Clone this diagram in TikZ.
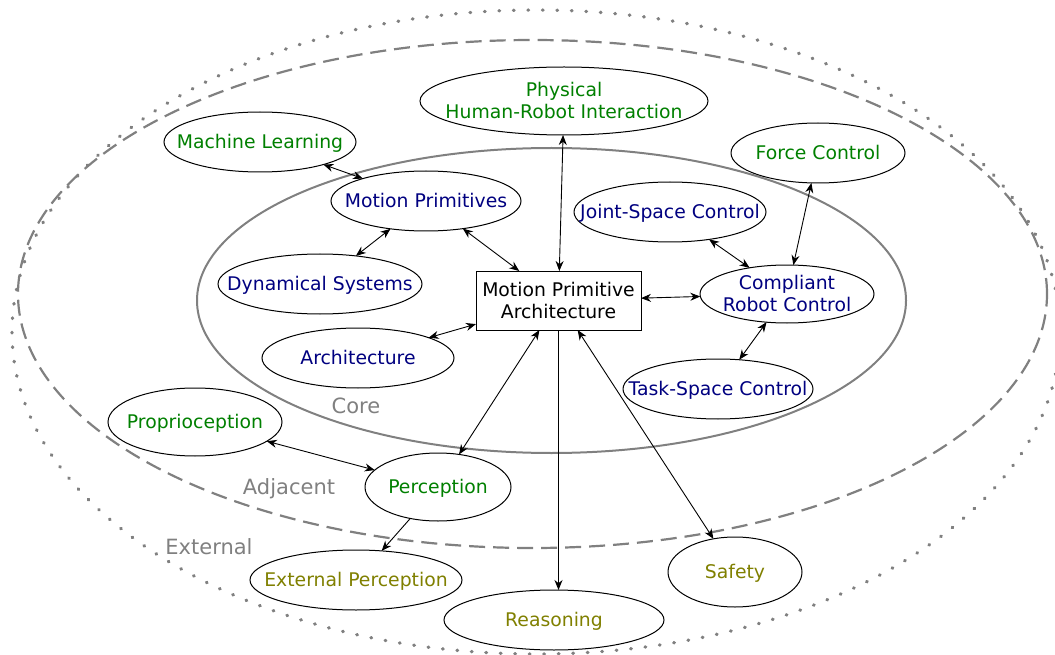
\documentclass[tikz,border=0pt]{standalone}
\usepackage{fontspec}
\setmainfont{DejaVu Sans}
\usetikzlibrary{shapes.geometric,arrows.meta}
\definecolor{cgreen}{RGB}{0,128,0}
\definecolor{cblue}{RGB}{0,0,128}
\definecolor{colive}{RGB}{128,128,0}
\definecolor{cgray}{RGB}{128,128,128}
\newcommand\ctext[1]{\makebox[0pt]{\begin{tabular}[b]{@{}c@{}}#1\end{tabular}}}
\begin{document}
\begin{tikzpicture}[x=1pt,y=-1pt,
  every node/.style={font=\fontsize{18.8}{22}\selectfont},
  ell/.style 2 args={ellipse, draw, fill=white, line width=1pt, inner sep=0pt, outer sep=0pt, minimum width=#1, minimum height=#2},
  oneline/.style={text height=13.7pt, text depth=0pt},
  twoline/.style={text height=35.7pt, text depth=0pt},
  regionlab/.style={text=cgray, font=\fontsize{21}{25}\selectfont},
  bi/.style={line width=0.9pt, {Stealth[length=10pt,width=8pt]}-{Stealth[length=10pt,width=8pt]}},
  uni/.style={line width=0.9pt, -{Stealth[length=10pt,width=8pt]}},
]
\useasboundingbox (0,0) rectangle (1055,655);
% regions
\draw[cgray, line width=3.4pt, line cap=round, dash pattern=on 0.6pt off 13.9pt] (536,332) ellipse [x radius=524pt, y radius=322pt];
\draw[cgray, line width=2.2pt, dash pattern=on 16pt off 8pt] (532.5,294) ellipse [x radius=514.5pt, y radius=254pt];
\draw[cgray, line width=2pt] (551.5,300.5) ellipse [x radius=354.5pt, y radius=152.5pt];
\node[regionlab, oneline] (lcore) at (356,407) {Core};
\node[regionlab, oneline] (ladj) at (289,488) {Adjacent};
\node[regionlab, oneline] (lext) at (209,548) {External};
% nodes
\node[ell={288pt}{68pt}, twoline, text=cgreen] (phri) at (564,101) {\ctext{Physical\\Human-Robot Interaction}};
\node[ell={192pt}{60pt}, oneline, text=cgreen] (ml) at (260,142) {\ctext{Machine Learning}};
\node[ell={190pt}{60pt}, oneline, text=cblue] (mp) at (426,201) {\ctext{Motion Primitives}};
\node[ell={204pt}{60pt}, oneline, text=cblue] (ds) at (320,284) {\ctext{Dynamical Systems}};
\node[draw, fill=white, line width=1pt, inner sep=0pt, outer sep=0pt, minimum width=165pt, minimum height=59pt, twoline] (mpa) at (558.5,300.5) {\ctext{Motion Primitive\\Architecture}};
\node[ell={174pt}{60pt}, oneline, text=cgreen] (fc) at (818,153) {\ctext{Force Control}};
\node[ell={192pt}{60pt}, oneline, text=cblue] (jsc) at (670,212) {\ctext{Joint-Space Control}};
\node[ell={174pt}{58pt}, twoline, text=cblue] (crc) at (787,294) {\ctext{Compliant\\Robot Control}};
\node[ell={192pt}{60pt}, oneline, text=cblue] (arch) at (358,358) {\ctext{Architecture}};
\node[ell={190pt}{60pt}, oneline, text=cblue] (tsc) at (718,389) {\ctext{Task-Space Control}};
\node[ell={174pt}{68pt}, oneline, text=cgreen] (pro) at (195,422) {\ctext{Proprioception}};
\node[ell={146pt}{68pt}, oneline, text=cgreen] (perc) at (438,487) {\ctext{Perception}};
\node[ell={212pt}{60pt}, oneline, text=colive] (ep) at (356,580) {\ctext{External Perception}};
\node[ell={220pt}{60pt}, oneline, text=colive] (reas) at (554,620) {\ctext{Reasoning}};
\node[ell={134pt}{70pt}, oneline, text=colive] (safe) at (735,572) {\ctext{Safety}};
% connectors
\draw[bi] (ml) -- (mp);
\draw[bi] (mp) -- (ds);
\draw[bi] (mp) -- (mpa);
\draw[bi] (phri) -- (mpa);
\draw[bi] (arch) -- (mpa);
\draw[bi] (mpa) -- (crc);
\draw[bi] (jsc) -- (crc);
\draw[bi] (fc) -- (crc);
\draw[bi] (crc) -- (tsc);
\draw[bi] (mpa) -- (perc);
\draw[bi] (pro) -- (perc);
\draw[uni] (perc) -- (ep);
\draw[uni] (mpa.south) -- (mpa.south |- reas.north);
\draw[bi] (mpa) -- (safe);
\end{tikzpicture}
\end{document}
